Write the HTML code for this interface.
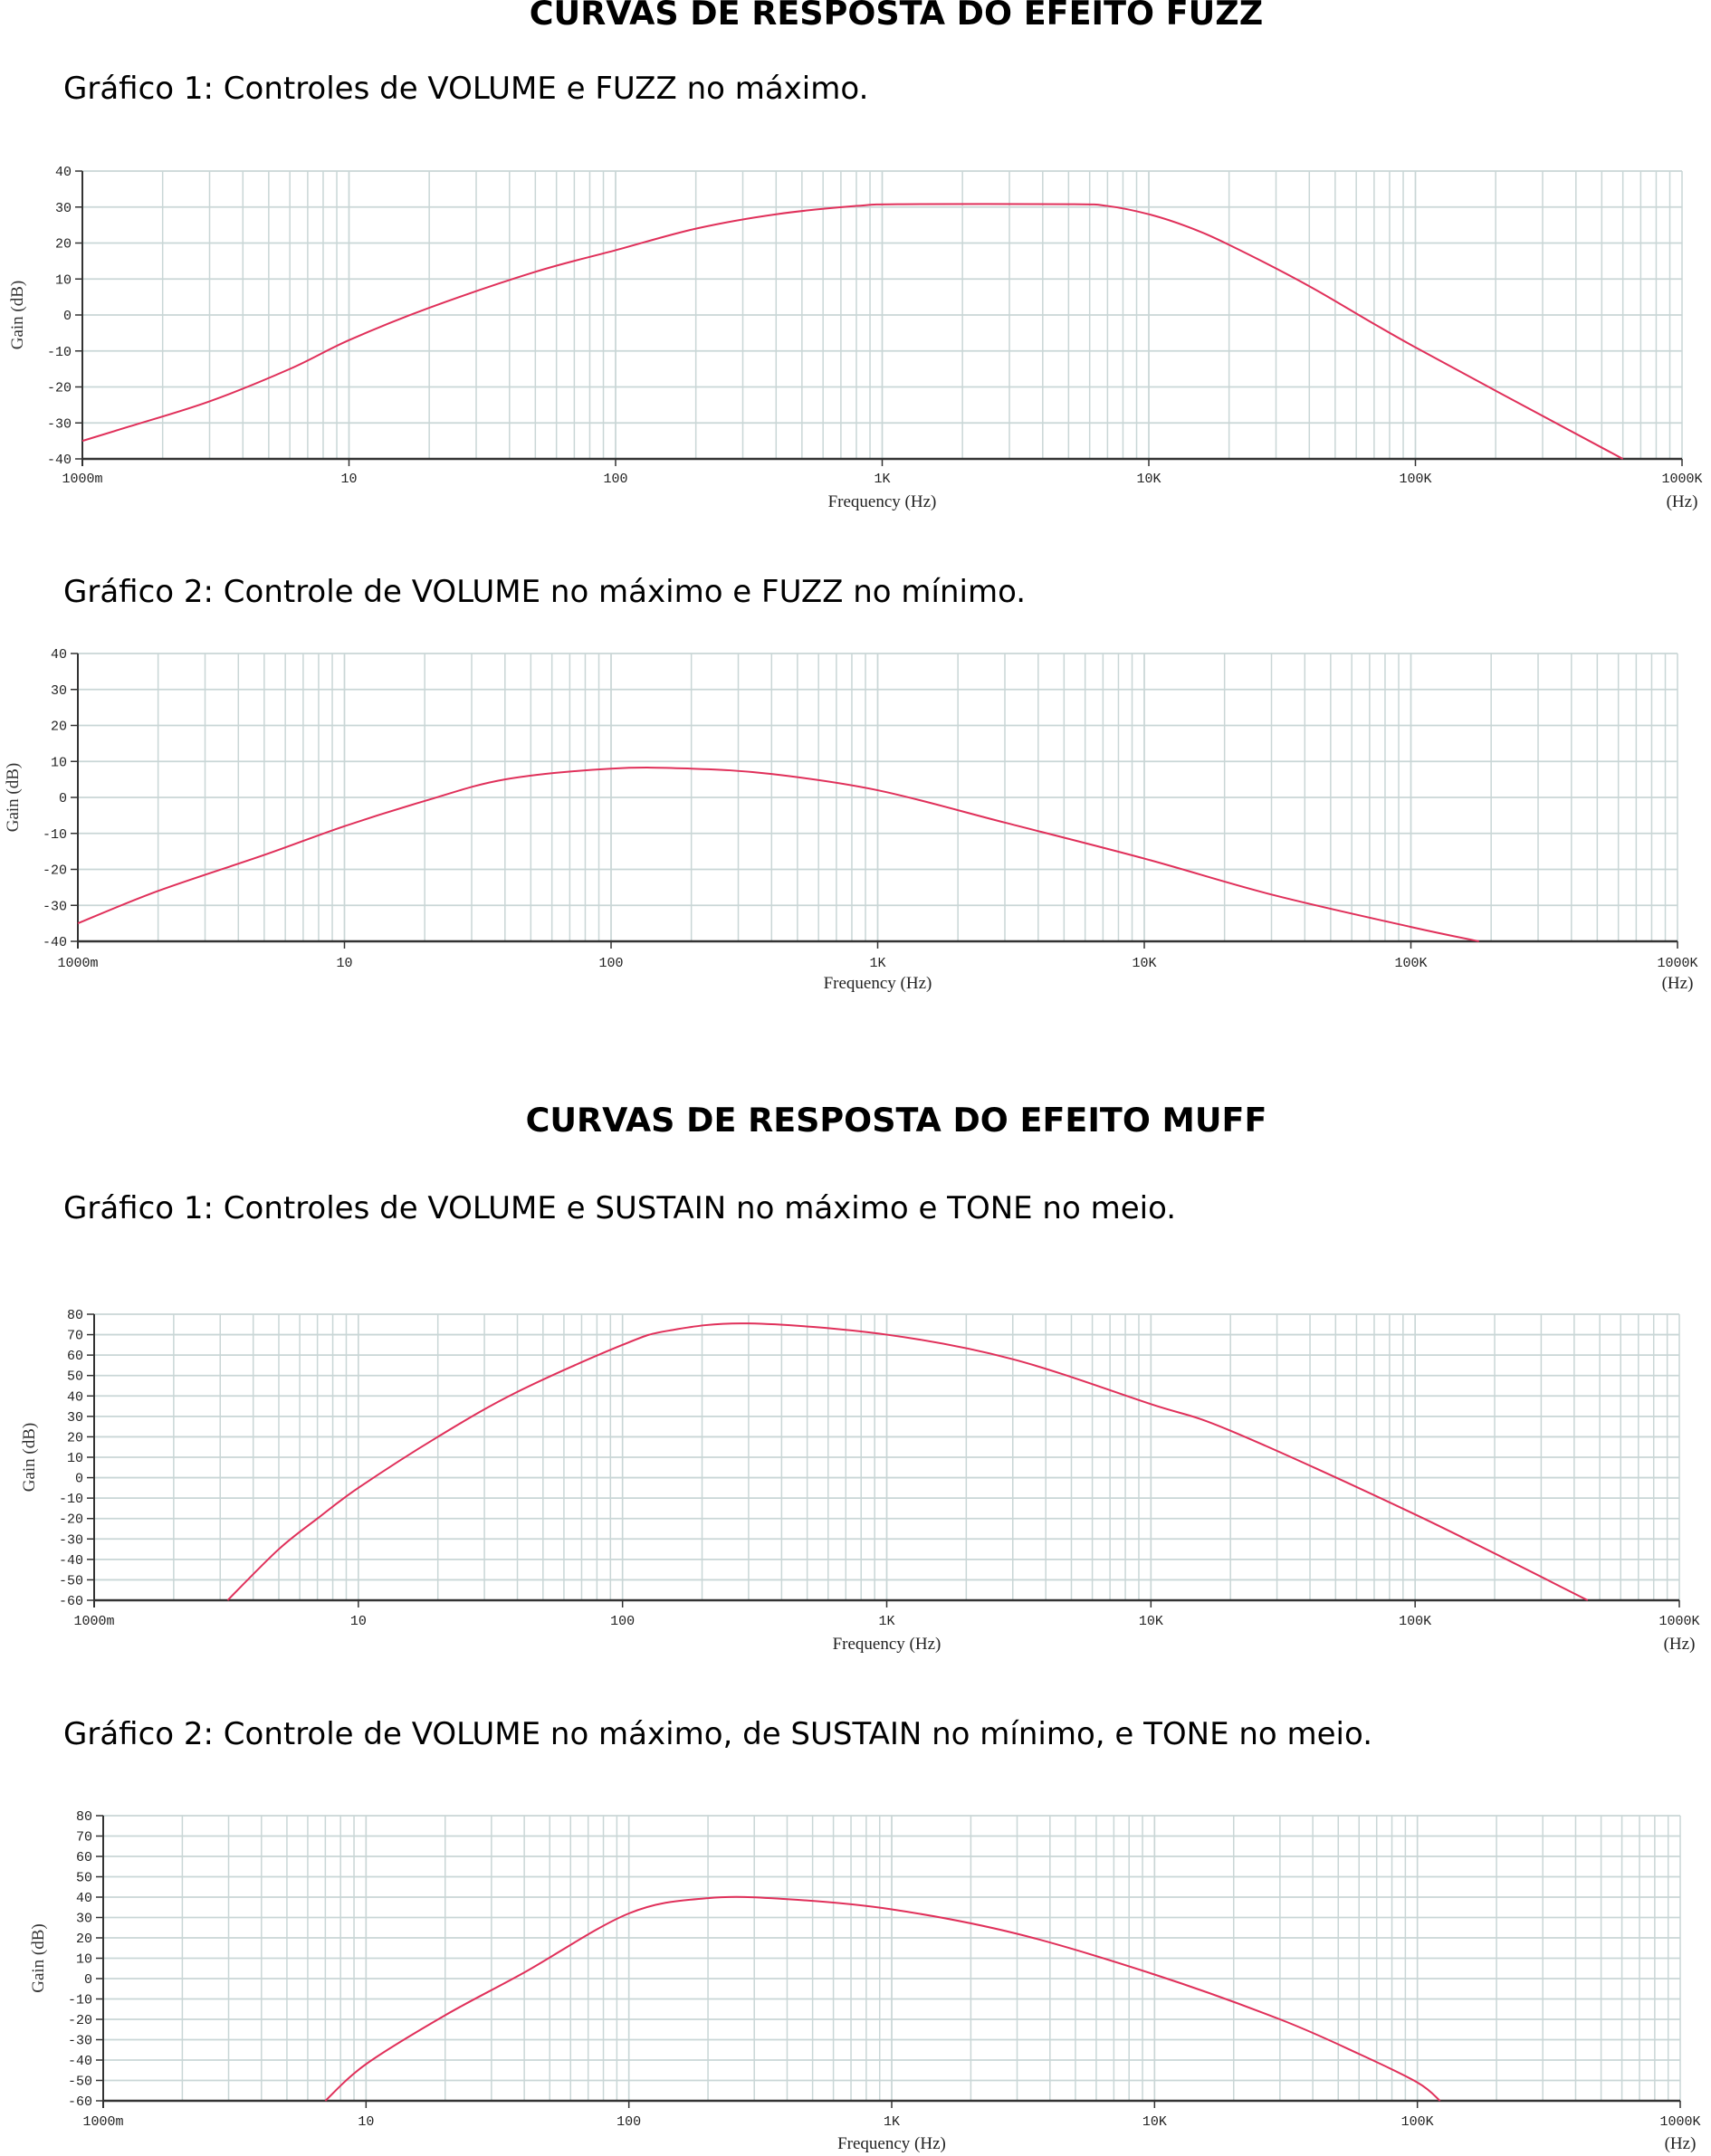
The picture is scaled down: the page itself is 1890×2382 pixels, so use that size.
<!DOCTYPE html>
<html><head><meta charset="utf-8">
<style>
html,body{margin:0;padding:0;background:#fff;}
body{width:1890px;height:2382px;position:relative;overflow:hidden;}
.t{position:absolute;font-family:"Comic Sans MS","DejaVu Sans",sans-serif;color:#000;white-space:nowrap;}
.h{font-weight:bold;font-size:36.5px;left:0;width:1980px;text-align:center;}
.s{font-size:34px;left:70px;}
svg{position:absolute;left:0;top:0;}
</style></head><body>
<div class="t h" style="top:-7px">CURVAS DE RESPOSTA DO EFEITO FUZZ</div>
<div class="t s" style="top:78px">Gráfico 1: Controles de VOLUME e FUZZ no máximo.</div>
<div class="t s" style="top:634px">Gráfico 2: Controle de VOLUME no máximo e FUZZ no mínimo.</div>
<div class="t h" style="top:1216px">CURVAS DE RESPOSTA DO EFEITO MUFF</div>
<div class="t s" style="top:1315px">Gráfico 1: Controles de VOLUME e SUSTAIN no máximo e TONE no meio.</div>
<div class="t s" style="top:1896px">Gráfico 2: Controle de VOLUME no máximo, de SUSTAIN no mínimo, e TONE no meio.</div>
<svg id="g" width="1890" height="2382" xmlns="http://www.w3.org/2000/svg"></svg>
<script>
const charts=[
 {x0:91,x1:1858,y0:189,y1:507,ymin:-40,ymax:40,step:10,tl:533,fl:560,
  pts:[[1,-35],[1.5,-31],[3,-24],[6,-15],[10,-7],[20,2],[50,12],[100,18],[200,24],[400,28],[800,30.3],[1200,30.8],[5000,30.8],[7000,30.3],[10000,28],[14000,24.5],[20000,19.5],[40000,8],[100000,-9],[600000,-40]]},
 {x0:86,x1:1853,y0:722,y1:1040,ymin:-40,ymax:40,step:10,tl:1068,fl:1092,
  pts:[[1,-35],[2,-26],[5,-16],[10,-8],[20,-1],[40,5],[100,8],[200,8],[400,6.5],[1000,2],[3000,-7],[10000,-17],[30000,-27],[100000,-36],[180000,-40]]},
 {x0:104,x1:1855,y0:1452,y1:1768,ymin:-60,ymax:80,step:10,tl:1795,fl:1822,
  pts:[[3.2,-60],[5,-35],[7,-20],[10,-5],[20,20],[40,42],[100,65],[150,72],[300,75.5],[1000,70],[3000,58],[10000,36],[20000,23],[100000,-18],[450000,-60]]},
 {x0:114,x1:1856,y0:2006,y1:2321,ymin:-60,ymax:80,step:10,tl:2348,fl:2374,
  pts:[[7,-60],[10,-42],[20,-18],[40,3],[100,32],[200,39.5],[400,39],[1000,34],[3000,22],[10000,2],[30000,-20],[60000,-37],[100000,-51],[122000,-60]]}
];
let s='';
const labs=['1000m','10','100','1K','10K','100K','1000K'];
charts.forEach(c=>{
 const dw=(c.x1-c.x0)/6;
 const X=f=>c.x0+Math.log10(f)*dw;
 const Y=v=>c.y1-(v-c.ymin)/(c.ymax-c.ymin)*(c.y1-c.y0);
 for(let d=0;d<6;d++)for(let k=1;k<=10;k++){const x=X(k*Math.pow(10,d));if(k==1&&d==0)continue;
  s+=`<line x1="${x}" y1="${c.y0}" x2="${x}" y2="${c.y1}" stroke="#c9d6d6" stroke-width="1.5"/>`;}
 for(let v=c.ymin;v<=c.ymax;v+=c.step){const y=Y(v);
  s+=`<line x1="${c.x0}" y1="${y}" x2="${c.x1}" y2="${y}" stroke="#c9d6d6" stroke-width="1.8"/>`;
  s+=`<line x1="${c.x0-8}" y1="${y}" x2="${c.x0}" y2="${y}" stroke="#333" stroke-width="1.5"/>`;
  s+=`<text x="${c.x0-12}" y="${y+5}" text-anchor="end" font-family="Liberation Mono,monospace" font-size="15" fill="#222">${v}</text>`;}
 s+=`<line x1="${c.x0}" y1="${c.y0}" x2="${c.x0}" y2="${c.y1+8}" stroke="#333" stroke-width="2"/>`;
 s+=`<line x1="${c.x0}" y1="${c.y1}" x2="${c.x1}" y2="${c.y1}" stroke="#333" stroke-width="2.5"/>`;
 for(let d=0;d<=6;d++){const x=c.x0+d*dw;
  s+=`<line x1="${x}" y1="${c.y1}" x2="${x}" y2="${c.y1+8}" stroke="#333" stroke-width="1.5"/>`;
  s+=`<text x="${x}" y="${c.tl}" text-anchor="middle" font-family="Liberation Mono,monospace" font-size="15" fill="#222">${labs[d]}</text>`;}
 s+=`<text x="${(c.x0+c.x1)/2}" y="${c.fl}" text-anchor="middle" font-family="Liberation Serif,serif" font-size="19" fill="#222">Frequency (Hz)</text>`;
 s+=`<text x="${c.x1}" y="${c.fl}" text-anchor="middle" font-family="Liberation Serif,serif" font-size="19" fill="#222">(Hz)</text>`;
 const my=(c.y0+c.y1)/2;
 s+=`<text x="${c.x0-66}" y="${my}" transform="rotate(-90 ${c.x0-66} ${my})" text-anchor="middle" font-family="Liberation Serif,serif" font-size="19" fill="#333">Gain (dB)</text>`;
 const P=c.pts.map(p=>[X(p[0]),Y(p[1])]);
 let d=`M${P[0][0]},${P[0][1]}`;
 for(let i=0;i<P.length-1;i++){const p0=P[Math.max(0,i-1)],p1=P[i],p2=P[i+1],p3=P[Math.min(P.length-1,i+2)];
  d+=` C${p1[0]+(p2[0]-p0[0])/6},${p1[1]+(p2[1]-p0[1])/6} ${p2[0]-(p3[0]-p1[0])/6},${p2[1]-(p3[1]-p1[1])/6} ${p2[0]},${p2[1]}`;}
 s+=`<path d="${d}" fill="none" stroke="#e0305a" stroke-width="2"/>`;
});
document.getElementById('g').innerHTML=s;
</script>
</body></html>
